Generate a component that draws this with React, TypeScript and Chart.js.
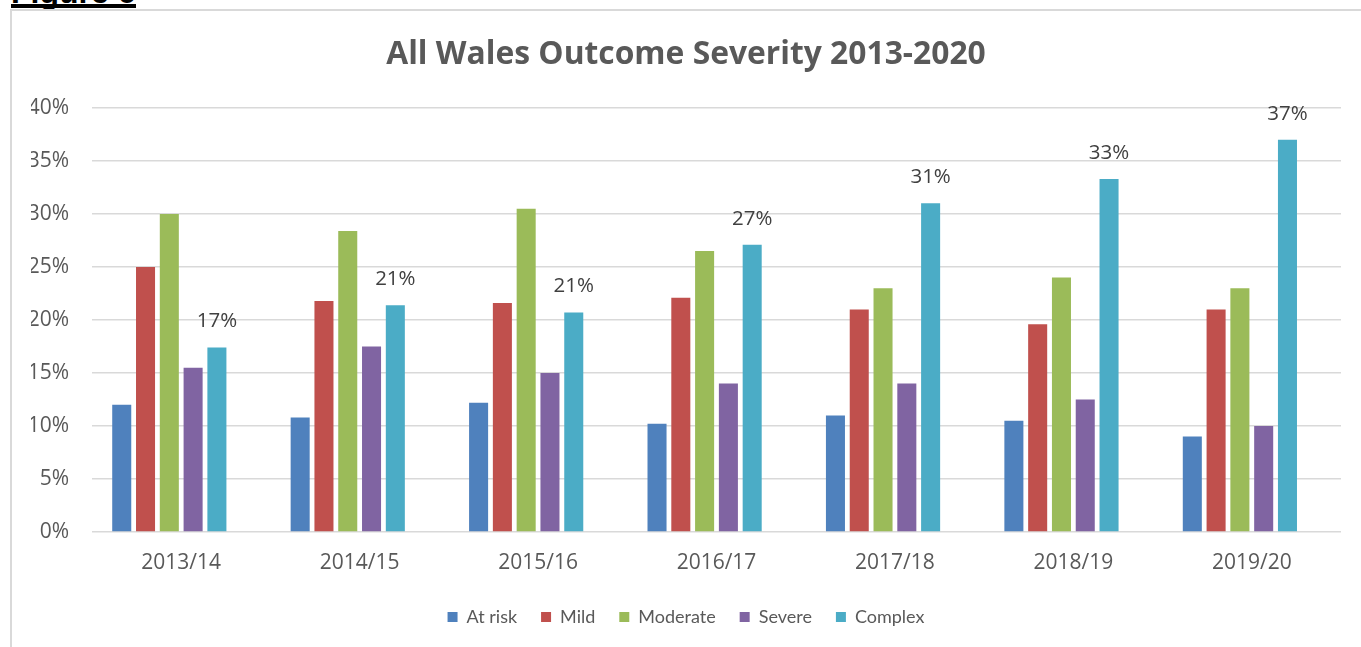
import React, { useEffect, useRef } from "react";
import { Chart, registerables } from "chart.js";

Chart.register(...registerables);

const categories = ["2013/14", "2014/15", "2015/16", "2016/17", "2017/18", "2018/19", "2019/20"];
const atRisk = [12.0, 10.8, 12.2, 10.2, 11.0, 10.5, 9.0];
const mild = [25.0, 21.8, 21.6, 22.1, 21.0, 19.6, 21.0];
const moderate = [30.0, 28.4, 30.5, 26.5, 23.0, 24.0, 23.0];
const severe = [15.5, 17.5, 15.0, 14.0, 14.0, 12.5, 10.0];
const complex = [17.4, 21.4, 20.7, 27.1, 31.0, 33.3, 37.0];
const yTicks = [0, 5, 10, 15, 20, 25, 30, 35, 40];

const FONT = "'Open Sans', 'Noto Sans', sans-serif";
const LEGEND_FONT = "Lato, 'Open Sans', sans-serif";

const complexLabels = {
  id: "complexLabels",
  afterDatasetsDraw(chart: any) {
    const ctx = chart.ctx;
    const meta = chart.getDatasetMeta(4);
    ctx.save();
    ctx.font = `20.5px ${FONT}`;
    ctx.fillStyle = "#404040";
    ctx.textAlign = "center";
    ctx.textBaseline = "middle";
    meta.data.forEach((bar: any, i: number) => {
      const v = complex[i];
      ctx.fillText(`${Math.round(v)}%`, bar.x, bar.y - 26);
    });
    ctx.restore();
  },
};

export default function App() {
  const ref = useRef<HTMLCanvasElement>(null);
  useEffect(() => {
    if (!ref.current) return;
    const chart = new Chart(ref.current, {
      type: "bar",
      data: {
        labels: categories,
        datasets: [
          { label: "At risk", data: atRisk, backgroundColor: "#4F81BD" },
          { label: "Mild", data: mild, backgroundColor: "#C0504D" },
          { label: "Moderate", data: moderate, backgroundColor: "#9BBB59" },
          { label: "Severe", data: severe, backgroundColor: "#8064A2" },
          { label: "Complex", data: complex, backgroundColor: "#4BACC6" },
          { label: "", data: [], backgroundColor: "rgba(0,0,0,0)" },
        ],
      },
      options: {
        responsive: false,
        animation: false,
        devicePixelRatio: 1,
        layout: { padding: { left: 31, right: 20, top: 0, bottom: 11 } },
        datasets: { bar: { categoryPercentage: 0.8, barPercentage: 0.8 } },
        plugins: {
          title: {
            display: true,
            text: "All Wales Outcome Severity 2013-2020",
            color: "#595959",
            font: { family: FONT, size: 31.8, weight: "bold" },
            padding: { top: 36, bottom: 33.8 },
          },
          legend: {
            position: "bottom",
            labels: {
              boxWidth: 10,
              boxHeight: 10,
              padding: 24,
              color: "#595959",
              font: { family: LEGEND_FONT, size: 18 },
              filter: (item: any) => item.datasetIndex < 5,
            },
          },
          tooltip: { enabled: false },
        },
        scales: {
          x: {
            grid: { display: false, drawTicks: false },
            border: { display: false },
            ticks: { color: "#595959", font: { family: FONT, size: 21 }, padding: 18 },
            afterFit(scale: any) {
              scale.height = 52;
            },
          },
          y: {
            min: 0,
            max: 40,
            afterBuildTicks(scale: any) {
              scale.ticks = yTicks.map((v) => ({ value: v }));
            },
            grid: { color: "#d9d9d9", lineWidth: 1.5, drawTicks: false },
            border: { display: false },
            ticks: {
              color: "#595959",
              font: { family: FONT, size: 21 },
              padding: 23,
              callback: (v: any) => `${v}%`,
            },
            afterFit(scale: any) {
              scale.width = 61;
            },
          },
        },
      },
      plugins: [complexLabels],
    });
    return () => chart.destroy();
  }, []);

  return (
    <div
      style={{
        position: "fixed",
        left: 0,
        top: 0,
        width: 1361,
        height: 647,
        overflow: "hidden",
        background: "#ffffff",
      }}
    >
      <div
        style={{
          position: "absolute",
          left: 11,
          top: -24,
          fontFamily: "'Liberation Sans', sans-serif",
          fontWeight: "bold",
          fontSize: 32,
          lineHeight: "32px",
          color: "#000",
          whiteSpace: "nowrap",
        }}
      >
        Figure 6
      </div>
      <div
        style={{
          position: "absolute",
          left: 11,
          top: 4,
          width: 125,
          height: 4,
          background: "#000",
        }}
      />
      <div
        style={{
          position: "absolute",
          left: 10,
          top: 9,
          width: 1400,
          height: 700,
          borderTop: "2px solid #d9d9d9",
          borderLeft: "2px solid #d9d9d9",
        }}
      />
      <canvas
        ref={ref}
        width={1361}
        height={647}
        style={{ position: "absolute", left: 0, top: 0 }}
      />
    </div>
  );
}
